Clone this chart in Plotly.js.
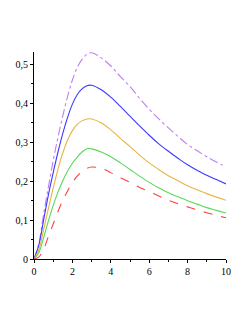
<!DOCTYPE html>
<html>
<head>
<meta charset="utf-8">
<script src="https://cdn.plot.ly/plotly-3.0.1.min.js"></script>
<style>html,body{margin:0;padding:0;background:#fff;}#chart{width:249px;height:323px;}</style>
</head>
<body>
<div id="chart"></div>
<script>
var xs     = [0, 0.25, 0.5, 0.75, 1, 1.25, 1.5, 1.75, 2, 2.25, 2.5, 2.75, 3, 3.5, 4, 4.5, 5, 5.5, 6, 6.5, 7, 7.5, 8, 8.5, 9, 9.5, 10];
var purple = [0, 0.04, 0.115, 0.185, 0.253, 0.313, 0.368, 0.418, 0.460, 0.492, 0.513, 0.526, 0.530, 0.517, 0.496, 0.469, 0.443, 0.413, 0.385, 0.360, 0.337, 0.315, 0.294, 0.278, 0.263, 0.249, 0.237];
var blue   = [0, 0.035, 0.10, 0.165, 0.222, 0.275, 0.323, 0.364, 0.398, 0.422, 0.437, 0.445, 0.4465, 0.435, 0.416, 0.392, 0.367, 0.342, 0.318, 0.296, 0.277, 0.259, 0.242, 0.228, 0.215, 0.204, 0.193];
var orange = [0, 0.023, 0.075, 0.130, 0.182, 0.231, 0.273, 0.306, 0.330, 0.346, 0.355, 0.360, 0.360, 0.350, 0.332, 0.310, 0.289, 0.267, 0.247, 0.230, 0.214, 0.201, 0.188, 0.178, 0.168, 0.159, 0.151];
var green  = [0, 0.016, 0.055, 0.098, 0.138, 0.172, 0.201, 0.226, 0.246, 0.262, 0.275, 0.2835, 0.283, 0.275, 0.263, 0.247, 0.230, 0.213, 0.197, 0.183, 0.170, 0.160, 0.150, 0.141, 0.132, 0.125, 0.118];
var red    = [0, 0.005, 0.025, 0.058, 0.090, 0.122, 0.151, 0.175, 0.196, 0.213, 0.225, 0.233, 0.2365, 0.233, 0.222, 0.209, 0.197, 0.184, 0.173, 0.162, 0.151, 0.142, 0.134, 0.126, 0.119, 0.112, 0.106];
var xTickVals = [0, 2, 4, 6, 8, 10];
var xTickText = ["0", "2", "4", "6", "8", "10"];
var yTickVals = [0, 0.1, 0.2, 0.3, 0.4, 0.5];
var yTickText = ["0", "0,1", "0,2", "0,3", "0,4", "0,5"];

function tr(y, color, dash) {
  return {x: xs, y: y, type: 'scatter', mode: 'lines',
    line: {color: color, width: 1.1, dash: dash, shape: 'spline', smoothing: 1},
    hoverinfo: 'skip'};
}
var data = [
  tr(purple, '#c27ef0', 'dashdot'),
  tr(blue, '#3a3aff', 'solid'),
  tr(orange, '#e8b444', 'solid'),
  tr(green, '#58d858', 'solid'),
  tr(red, '#ff4040', 'dash')
];
var font = {family: '"Liberation Serif", "DejaVu Serif", serif', size: 10, color: '#000'};
var layout = {
  width: 249, height: 323,
  margin: {l: 34, r: 23, t: 52, b: 64, pad: 0},
  paper_bgcolor: '#fff', plot_bgcolor: '#fff',
  showlegend: false,
  separators: ', ',
  font: font,
  xaxis: {range: [0, 10], tickvals: xTickVals, ticktext: xTickText,
    showline: true, linecolor: '#000', linewidth: 1, ticks: 'outside', ticklen: 3, tickcolor: '#000',
    showgrid: false, zeroline: false, tickfont: font,
    minor: {ticks: 'outside', ticklen: 2, tickcolor: '#000', dtick: 1, tick0: 0, showgrid: false}},
  yaxis: {range: [0, 0.532], tickvals: yTickVals, ticktext: yTickText,
    showline: true, linecolor: '#000', linewidth: 1, ticks: 'outside', ticklen: 3, tickcolor: '#000',
    showgrid: false, zeroline: false, tickfont: font,
    minor: {ticks: 'outside', ticklen: 2, tickcolor: '#000', dtick: 0.05, tick0: 0, showgrid: false}}
};
Plotly.newPlot('chart', data, layout, {displayModeBar: false, staticPlot: true});
</script>
</body>
</html>
